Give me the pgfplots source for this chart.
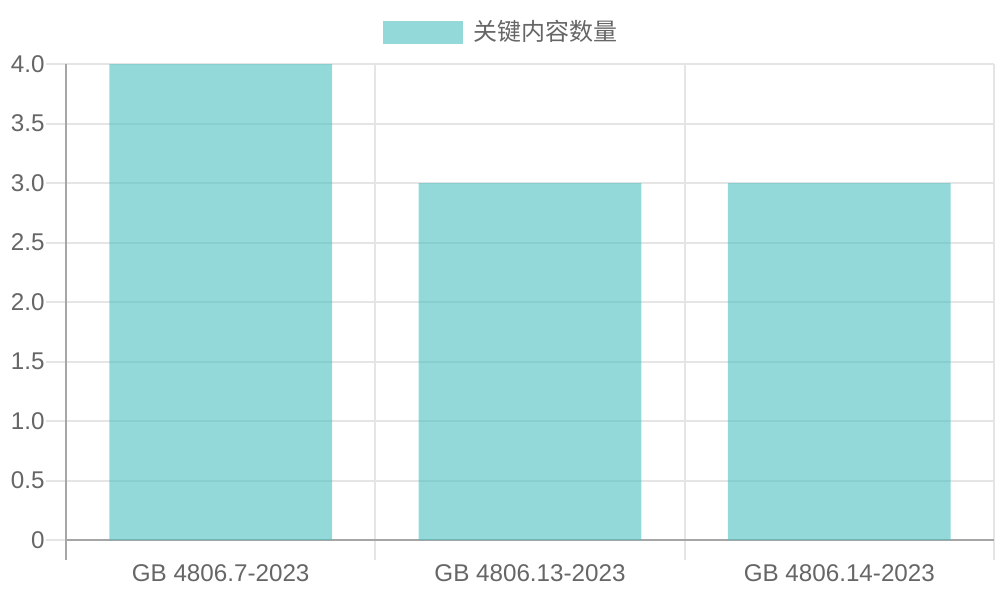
\documentclass[border=0pt]{standalone}
\usepackage{pgfplots}
\pgfplotsset{compat=1.18}
\usepackage{fontspec}
\setmainfont{Liberation Sans}
\newfontfamily\cjk{Noto Sans CJK SC}
\definecolor{barc}{RGB}{75,192,192}
\definecolor{txt}{HTML}{666666}
\definecolor{gridc}{HTML}{E5E5E5}
\definecolor{axc}{HTML}{A6A6A6}
\begin{document}
\begin{tikzpicture}
\useasboundingbox (-33pt,-30pt) rectangle (467pt,270pt);
\begin{axis}[
  at={(0,0)}, anchor=south west,
  scale only axis, width=464pt, height=238pt,
  xmin=-0.5, xmax=2.5, ymin=0, ymax=4,
  axis x line*=bottom, axis y line*=left,
  axis line style={draw=axc, line width=1pt, -},
  y axis line style={shorten <=-10pt},
  xtick={-0.5,0.5,1.5,2.5},
  xticklabels={,,,},
  extra x ticks={0,1,2},
  extra x tick labels={GB 4806.7-2023, GB 4806.13-2023, GB 4806.14-2023},
  extra x tick style={grid=none, major tick length=0pt},
  xmajorgrids, ymajorgrids,
  grid style={draw=gridc, line width=1pt},
  ytick={0,0.5,...,4},
  yticklabels={0,0.5,1.0,1.5,2.0,2.5,3.0,3.5,4.0},
  tick align=outside,
  major tick length=10pt,
  tick style={draw=gridc, line width=1pt},
  tick label style={font=\fontsize{12.1}{14}\selectfont, text=txt},
  /pgf/number format/assume math mode=true,
  yticklabel style={inner sep=0pt, anchor=east, xshift=-0.5pt},
  xticklabel style={inner sep=0pt, anchor=north, yshift=-12pt},
  legend style={at={(0.4699,1.067)}, anchor=center, draw=none, fill=none,
    font=\cjk\fontsize{12}{14}\selectfont, text=txt, inner sep=0pt},
  ybar, bar width=0.72, bar shift=0pt,
]
\addplot[fill=barc, fill opacity=0.6, draw=none,
  legend image code/.code={\fill[barc, fill opacity=0.6] (0pt,-5.75pt) rectangle (40pt,5.75pt); \path (43.5pt,0pt);}]
  coordinates {(0,4) (1,3) (2,3)};
\addlegendentry{关键内容数量}
\end{axis}
\end{tikzpicture}
\end{document}
